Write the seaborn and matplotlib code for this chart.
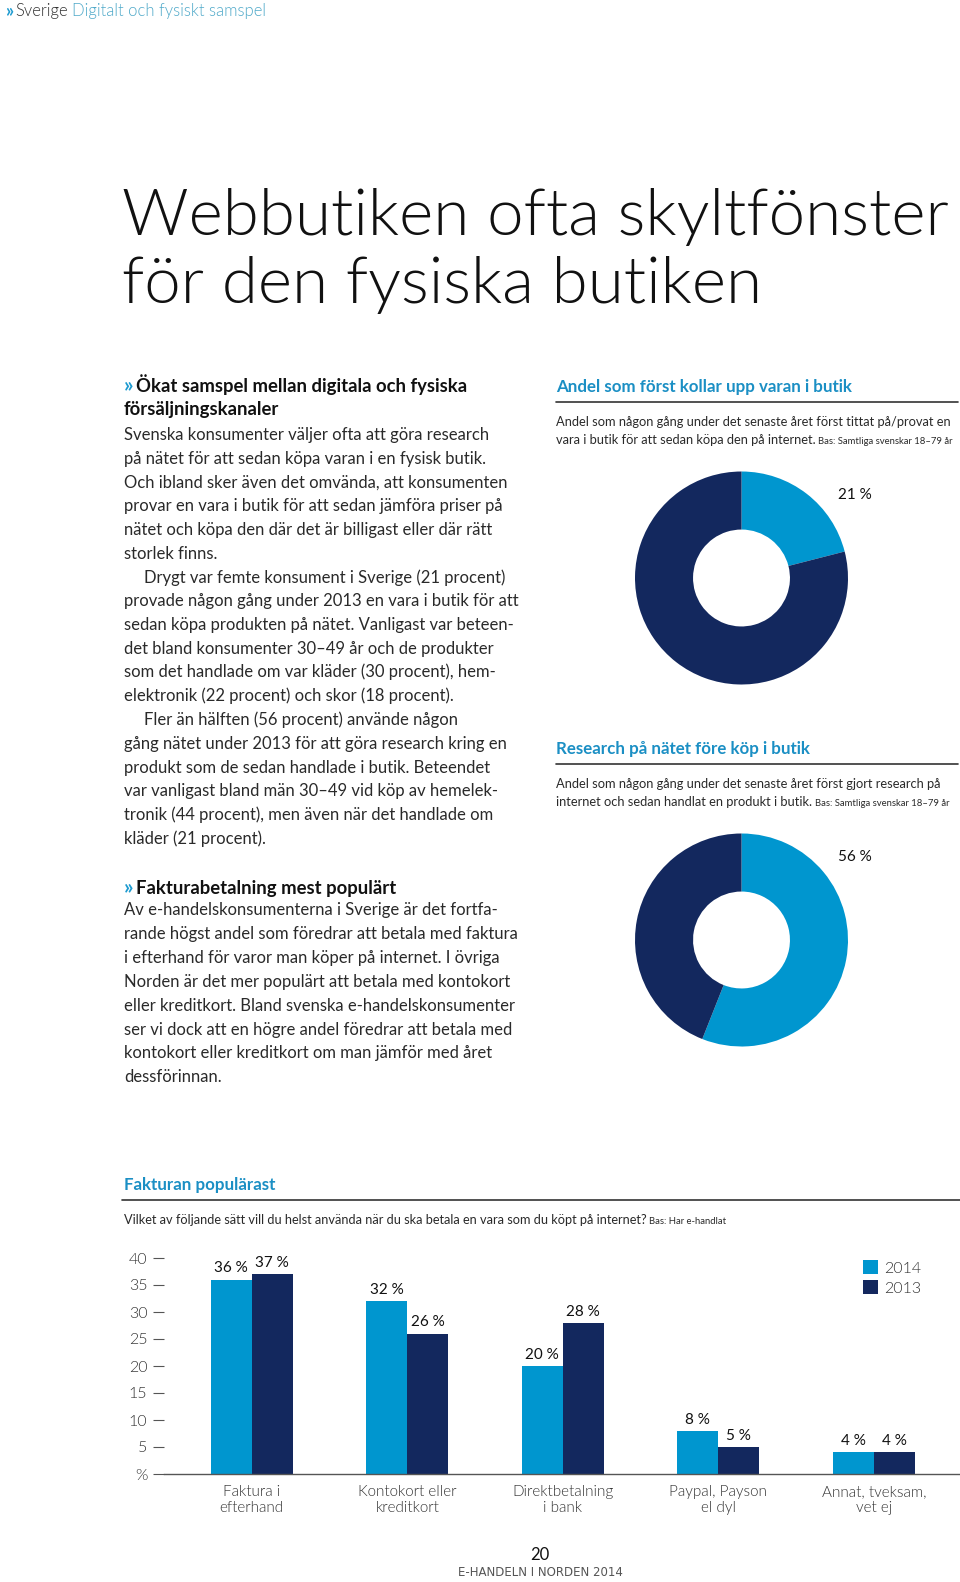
import matplotlib.pyplot as plt
import pandas as pd
import seaborn as sns

# Data
kategorier = [
    "Faktura i\nefterhand",
    "Kontokort eller\nkreditkort",
    "Direktbetalning\ni bank",
    "Paypal, Payson\nel dyl",
    "Annat, tveksam,\nvet ej",
]
ar = ["2014", "2013"]
andel_2014 = [36, 32, 20, 8, 4]
andel_2013 = [37, 26, 28, 5, 4]
y_ticks = [0, 5, 10, 15, 20, 25, 30, 35, 40]
y_ticklabels = ["%", "5", "10", "15", "20", "25", "30", "35", "40"]

butik_forst = [21, 79]     # kollar upp varan i butik först
research_natet = [56, 44]  # research på nätet före köp i butik

LJUS = "#0096cf"
MORK = "#13285e"
RUBRIK = "#1b8fc4"
TEXT = "#2a2a2a"
GRA = "#333333"
LIGHT = 300

W, H = 960, 1582

sns.set_theme(style="white")
plt.rcParams["font.family"] = ["Lato", "DejaVu Sans"]

fig = plt.figure(figsize=(W / 100, H / 100), dpi=100)

# page axes in pixel coordinates (origin top-left)
page = fig.add_axes([0, 0, 1, 1])
page.set_xlim(0, W)
page.set_ylim(H, 0)
page.axis("off")


def px_rect(x0, y0, w, h):
    return [x0 / W, 1 - (y0 + h) / H, w / W, h / H]


def chain(prev, s, gap=3, **kw):
    return page.annotate(s, xy=(1, 0), xycoords=prev, xytext=(gap, 0),
                         textcoords="offset points", ha="left", va="bottom", **kw)


def fit_width(txt, width_px):
    r = fig.canvas.get_renderer()
    w = txt.get_window_extent(r).width
    txt.set_fontsize(txt.get_fontsize() * width_px / w)


# Header
t = page.text(5, 16, "»", fontsize=13, fontweight="bold", color="#1e9bd0", va="baseline")
t = chain(t, "Sverige", gap=1.5, fontsize=12, fontweight=LIGHT, color="#333333")
chain(t, "Digitalt och fysiskt samspel", gap=3, fontsize=12, fontweight=LIGHT,
      color="#4fa9c9")

# Title
t1 = page.text(122, 235, "Webbutiken ofta skyltfönster", fontsize=50, fontweight=LIGHT,
               color="#111111", va="baseline")
fit_width(t1, 828)
page.text(122, 303, "för den fysiska butiken", fontsize=t1.get_fontsize(), fontweight=LIGHT,
          color="#111111", va="baseline")

# Left column
BODY = 12
HEAD = 13.3
t = page.text(124, 391, "»", fontsize=15, fontweight="bold", color="#1e9bd0", va="baseline")
chain(t, "Ökat samspel mellan digitala och fysiska", gap=1.5, fontsize=HEAD,
      fontweight="bold", color="#111111")
page.text(124, 415, "försäljningskanaler", fontsize=HEAD, fontweight="bold",
          color="#111111", va="baseline")

rader_1 = [
    (0, "Svenska konsumenter väljer ofta att göra research"),
    (0, "på nätet för att sedan köpa varan i en fysisk butik."),
    (0, "Och ibland sker även det omvända, att konsumenten"),
    (0, "provar en vara i butik för att sedan jämföra priser på"),
    (0, "nätet och köpa den där det är billigast eller där rätt"),
    (0, "storlek finns."),
    (20, "Drygt var femte konsument i Sverige (21 procent)"),
    (0, "provade någon gång under 2013 en vara i butik för att"),
    (0, "sedan köpa produkten på nätet. Vanligast var beteen-"),
    (0, "det bland konsumenter 30–49 år och de produkter"),
    (0, "som det handlade om var kläder (30 procent), hem-"),
    (0, "elektronik (22 procent) och skor (18 procent)."),
    (20, "Fler än hälften (56 procent) använde någon"),
    (0, "gång nätet under 2013 för att göra research kring en"),
    (0, "produkt som de sedan handlade i butik. Beteendet"),
    (0, "var vanligast bland män 30–49 vid köp av hemelek-"),
    (0, "tronik (44 procent), men även när det handlade om"),
    (0, "kläder (21 procent)."),
]
for i, (ind, s) in enumerate(rader_1):
    page.text(124 + ind, 440 + 23.75 * i, s, fontsize=BODY, fontweight="normal",
              color=TEXT, va="baseline")

t = page.text(124, 893, "»", fontsize=15, fontweight="bold", color="#1e9bd0", va="baseline")
chain(t, "Fakturabetalning mest populärt", gap=1.5, fontsize=HEAD, fontweight="bold",
      color="#111111")
rader_2 = [
    "Av e-handelskonsumenterna i Sverige är det fortfa-",
    "rande högst andel som föredrar att betala med faktura",
    "i efterhand för varor man köper på internet. I övriga",
    "Norden är det mer populärt att betala med kontokort",
    "eller kreditkort. Bland svenska e-handelskonsumenter",
    "ser vi dock att en högre andel föredrar att betala med",
    "kontokort eller kreditkort om man jämför med året",
    "dessförinnan.",
]
for i, s in enumerate(rader_2):
    page.text(124, 915 + 23.9 * i, s, fontsize=BODY, fontweight="normal",
              color=TEXT, va="baseline")

# Right column: donut sections
sektioner = [
    (392, "Andel som först kollar upp varan i butik",
     ["Andel som någon gång under det senaste året först tittat på/provat en",
      "vara i butik för att sedan köpa den på internet."],
     butik_forst, 578),
    (754, "Research på nätet före köp i butik",
     ["Andel som någon gång under det senaste året först gjort research på",
      "internet och sedan handlat en produkt i butik."],
     research_natet, 940),
]
for y0, rubrik, under, varden, cy in sektioner:
    page.text(556, y0, rubrik, fontsize=12.2, fontweight="bold", color=RUBRIK, va="baseline")
    page.plot([556, 958], [y0 + 10, y0 + 10], color="#333333", lw=1.2)
    page.text(556, y0 + 34, under[0], fontsize=9.3, fontweight="normal", color=TEXT,
              va="baseline")
    t = page.text(556, y0 + 52, under[1], fontsize=9.3, fontweight="normal", color=TEXT,
                  va="baseline")
    chain(t, "Bas: Samtliga svenskar 18–79 år", gap=2, fontsize=6.8, fontweight="normal",
          color=TEXT)

    dax = fig.add_axes(px_rect(741.5 - 106.5, cy - 106.5, 213, 213))
    dax.pie(varden, colors=[LJUS, MORK], startangle=90, counterclock=False,
            wedgeprops=dict(width=0.545, linewidth=0))
    dax.set_xlim(-1, 1)
    dax.set_ylim(-1, 1)
    dax.set_aspect("equal")
    page.text(855, cy - 83, f"{varden[0]} %", fontsize=11, color="#111111",
              ha="center", va="center")

# Bar chart section
page.text(124, 1190, "Fakturan populärast", fontsize=12.2, fontweight="bold", color=RUBRIK,
          va="baseline")
page.plot([122, 960], [1200, 1200], color="#333333", lw=1.2)
t = page.text(124, 1224, "Vilket av följande sätt vill du helst använda när du ska betala en "
              "vara som du köpt på internet?", fontsize=9.2, fontweight="normal",
              color=TEXT, va="baseline")
chain(t, "Bas: Har e-handlat", gap=2, fontsize=6.8, fontweight="normal", color=TEXT)

df = pd.DataFrame({
    "kategori": kategorier * 2,
    "år": [ar[0]] * len(kategorier) + [ar[1]] * len(kategorier),
    "andel": andel_2014 + andel_2013,
})

ax = fig.add_axes(px_rect(164, 1258, 796, 216))
sns.barplot(data=df, x="kategori", y="andel", hue="år", hue_order=ar,
            palette=[LJUS, MORK], width=0.527, saturation=1, linewidth=0, ax=ax)

for cont in ax.containers:
    ax.bar_label(cont, labels=[f"{v:.0f} %" for v in cont.datavalues],
                 padding=3, fontsize=11, color="#111111")

ax.set_xlim(-0.564, 4.553)
ax.set_ylim(0, 40)
ax.set_yticks(y_ticks)
ax.set_yticklabels(y_ticklabels)
ax.set_xlabel("")
ax.set_ylabel("")
ax.tick_params(axis="y", length=8, width=0.8, color="#555555", pad=4,
               labelsize=11.5, labelcolor=GRA, left=True)
ax.tick_params(axis="x", length=0, pad=8, labelsize=11, labelcolor=GRA)
for lab in ax.get_xticklabels() + ax.get_yticklabels():
    lab.set_fontweight(LIGHT)
sns.despine(ax=ax, left=True)
ax.spines["bottom"].set_color("#555555")
ax.spines["bottom"].set_linewidth(1)
ax.patch.set_alpha(0)

leg = ax.legend(loc="upper left", bbox_to_anchor=(0.878, 0.99), frameon=False,
                handlelength=0.95, handleheight=0.95, handletextpad=0.35,
                labelspacing=0.3, borderpad=0, borderaxespad=0, fontsize=11.5)
for txt in leg.get_texts():
    txt.set_color(GRA)
    txt.set_fontweight(LIGHT)

# Footer
page.text(540, 1555, "20", fontsize=12, color="#111111", ha="center", va="center")
page.text(540, 1573, "E-HANDELN I NORDEN 2014", fontsize=8.5, fontweight=LIGHT,
          color="#555555", ha="center", va="center", fontfamily="DejaVu Sans")

fig.savefig("out.png", dpi=100)
